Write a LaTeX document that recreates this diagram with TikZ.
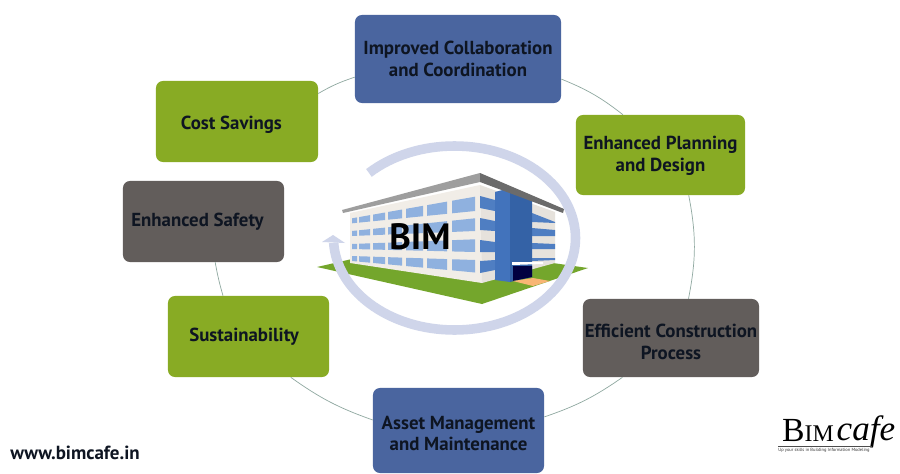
\documentclass[tikz,border=0pt]{standalone}
\usepackage{fontspec}
\setmainfont{PT Sans}
\newfontfamily\logofont{Liberation Serif}
\definecolor{boxblue}{HTML}{4A659F}
\definecolor{boxgreen}{HTML}{88AB24}
\definecolor{boxgrey}{HTML}{625D5B}
\definecolor{labelink}{HTML}{0E1522}
\definecolor{ringblue}{HTML}{CFD5EA}
\definecolor{ringline}{HTML}{8FA8A0}
\definecolor{lawn}{HTML}{74A62C}
\definecolor{wallface}{HTML}{F1EDE7}
\definecolor{wallside}{HTML}{E6E2DC}
\definecolor{glasslight}{HTML}{8FB1DF}
\definecolor{glassdark}{HTML}{4F7EC2}
\definecolor{towerlight}{HTML}{4273BC}
\definecolor{towerdark}{HTML}{3462A6}
\tikzset{
  benefit/.style={rounded corners=5pt,align=center,inner sep=0pt,text=labelink,
    font=\fontsize{13.4}{15.6}\selectfont\bfseries},
  bluebox/.style={benefit,fill=boxblue},
  greenbox/.style={benefit,fill=boxgreen},
  greybox/.style={benefit,fill=boxgrey},
  ring/.style={ringline,line width=0.5pt}
}
\newcommand{\nudged}[2]{\raisebox{-#1pt}[\height][\depth]{#2}}
\begin{document}
\begin{tikzpicture}[x=0.025cm,y=-0.025cm]
   \useasboundingbox (0,0) rectangle (900,473);
   \fill [white] (0,0) rectangle (900,473);
   \node [bluebox,minimum width=5.15cm,minimum height=2.2cm] (collab) at (458,59) {Improved Collaboration\\and Coordination};
   \node [greenbox,minimum width=4.225cm,minimum height=2cm] (planning) at (660.5,155) {\nudged{0.7}{Enhanced Planning}\\\nudged{0.7}{and Design}};
   \node [greybox,minimum width=4.4cm,minimum height=1.95cm] (construction) at (671,338) {\nudged{2.8}{Efficient Construction}\\\nudged{2.8}{Process}};
   \node [bluebox,minimum width=4.275cm,minimum height=2.125cm] (asset) at (458.5,430.5) {\nudged{2.1}{Asset Management}\\\nudged{2.1}{and Maintenance}};
   \node [greenbox,minimum width=4.025cm,minimum height=2.025cm] (sustain) at (248.5,336.5) {\hspace*{-0.22cm}Sustainability};
   \node [greybox,minimum width=4.025cm,minimum height=2.025cm] (safety) at (203.5,221.5) {\hspace*{-0.3cm}Enhanced Safety};
   \node [greenbox,minimum width=4.05cm,minimum height=2.025cm] (cost) at (237,121.5) {\hspace*{-0.28cm}\nudged{2.1}{Cost Savings}};
   \draw [ring] (cost.19) to [bend left=6] (collab.190);
   \draw [ring] (collab.-11) to [bend left=8] (planning.133);
   \draw [ring] (planning.-55) to [bend left=11] (construction.66);
   \draw [ring] (construction.219) to [bend left=8] (asset.9);
   \draw [ring] (asset.173) to [bend left=8] (sustain.-44);
   \draw [ring] (sustain.122) to [bend left=3] (safety.-74);
   \fill [lawn] (317,267) -- (352,259) -- (553,263) -- (588,268) -- (482,304) -- cycle;
   \fill [wallface] (350,213) -- (480,185) -- (482,283) -- (350,263) -- cycle;
   \fill [wallside] (480,185) -- (555,212) -- (555,263) -- (482,283) -- cycle;
   \foreach \ya/\yb/\yc/\yd in {218.3/223.3/196.7/211,231/236/218.3/231,244/249/239.3/252,256/261/260/272.5}
     \foreach \xa/\xb in {352/357,359/370,373/385,388/402,406/423,427/447,452/475}
       {
       \pgfmathsetmacro{\ta}{(\xa-352)/123}
       \pgfmathsetmacro{\tb}{(\xb-352)/123}
       \fill [glasslight] (\xa,{\ya+(\yc-\ya)*\ta}) -- (\xb,{\ya+(\yc-\ya)*\tb}) -- (\xb,{\yb+(\yd-\yb)*\tb}) -- (\xa,{\yb+(\yd-\yb)*\ta}) -- cycle;
       }
   \foreach \ya/\yb/\yc/\yd in {196/208/200/211,218/230/221/231,240/252/242/252,261/273/260/270}
     \fill [glassdark] (480,\ya) -- (495,\yc) -- (495,\yd) -- (480,\yb) -- cycle;
   \foreach \ya/\yb/\yc/\yd in {213/222/222/223,228/236/230/236,243/249/244/249,258/261/258/260}
     \fill [glassdark] (532,\ya) -- (555,\yc) -- (555,\yd) -- (532,\yb) -- cycle;
   \fill [towerlight] (495,192) -- (510,188) -- (510,282) -- (495,280) -- cycle;
   \fill [towerdark] (510,188) -- (532,198) -- (532,277) -- (510,282) -- cycle;
   \fill [black!75!blue] (513,266) -- (532,266) -- (532,277) -- (513,281) -- cycle;
   \fill [white] (512,262) -- (543,262) -- (543,264) -- (512,265) -- cycle;
   \fill [orange!50!wallface] (513,281) -- (533,278) -- (550,281) -- (533,286) -- cycle;
   \fill [black!38] (342,210) -- (480,173) -- (480,182) -- (343,213) -- cycle;
   \fill [black!58] (480,173) -- (564,209) -- (563,213) -- (480,182) -- cycle;
   \draw [ringblue,line width=6.8pt] (454.5,238) ++(-135:121 and 92) arc [start angle=-135,end angle=177,x radius=121,y radius=92];
   \fill [ringblue] (333,235) -- (322,242) -- (345,243) -- cycle;
   \node [font=\fontsize{26}{26}\selectfont\bfseries,text=black] (bim) at (420,237) {BIM};
   \node [font=\fontsize{13.5}{14}\selectfont\bfseries,text=labelink] (web) at (75,453) {www.bimcafe.in};
   \node [font=\logofont\fontsize{24}{24}\selectfont,inner sep=0pt] (logoname) at (808,430) {B\fontsize{17}{17}\selectfont IM};
   \node [font=\logofont\itshape\fontsize{25}{25}\selectfont,inner sep=0pt] (logocafe) at (866,432) {cafe};
   \draw [black!70,line width=0.3pt] (778,446) -- (872,446);
   \node [font=\fontsize{3.2}{4}\selectfont,text=black!80,inner sep=0pt] (logotag) at (824,450) {Up your skills in Building Information Modeling};
  \end{tikzpicture}
\end{document}
